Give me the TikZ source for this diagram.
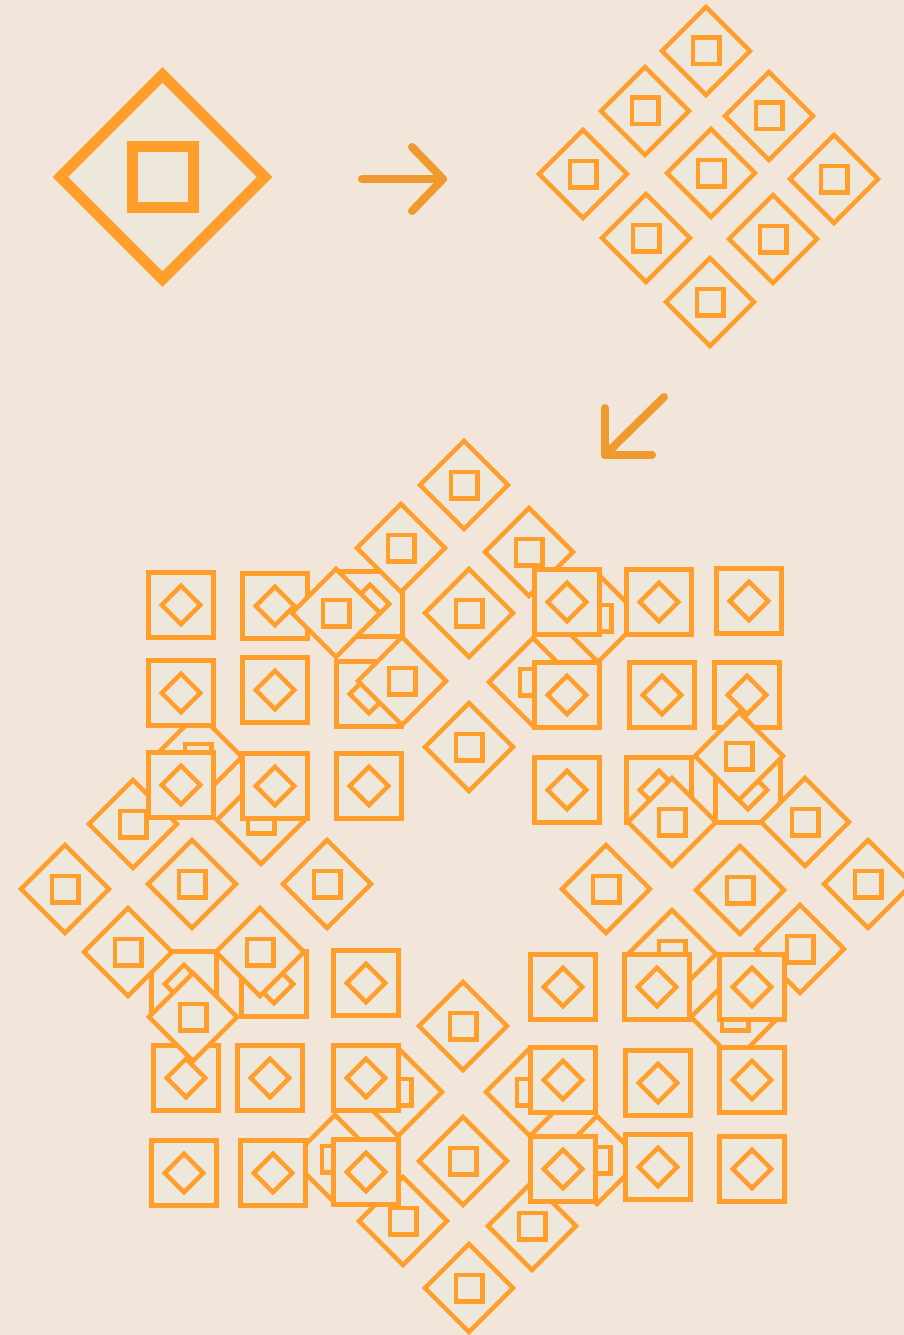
\documentclass[tikz,border=0pt]{standalone}
\definecolor{bgc}{RGB}{242,230,218}
\definecolor{tilefill}{RGB}{238,231,220}
\definecolor{strokec}{RGB}{255,158,42}
\definecolor{arrowc}{RGB}{239,154,47}
\begin{document}
\begin{tikzpicture}[x=1pt,y=-1pt,
  tile/.style={draw=strokec, fill=tilefill, line width=4.4pt},
  bigtile/.style={draw=strokec, fill=tilefill, line width=11pt},
  arr/.style={draw=arrowc, line width=8pt, line cap=round, line join=round},
  dtile/.pic={\path[tile] (0,-44) -- (44,0) -- (0,44) -- (-44,0) -- cycle;
              \path[tile] (-13.3,-13.3) rectangle (13.3,13.3);},
  stile/.pic={\path[tile] (-32.6,-32.6) rectangle (32.6,32.6);
              \path[tile] (0,-19.3) -- (19.3,0) -- (0,19.3) -- (-19.3,0) -- cycle;}
]
\fill[bgc] (0,0) rectangle (904,1335);
\useasboundingbox (0,0) rectangle (904,1335);
\clip (0,0) rectangle (904,1335);

% big tile
\path[bigtile] (162.5,74.8) -- (264.7,177) -- (162.5,279.2) -- (60.3,177) -- cycle;
\path[bigtile] (132,146.5) rectangle (193,207.5);

% arrows
\coordinate (a1s) at (362,179);
\coordinate (a1t) at (443,179);
\coordinate (a1u) at (412,147);
\coordinate (a1d) at (412,211);
\draw[arr] (a1s) -- (a1t);
\draw[arr] (a1u) -- (a1t) -- (a1d);
\coordinate (a2s) at (664,397);
\coordinate (a2t) at (605,455);
\coordinate (a2u) at (605,408);
\coordinate (a2r) at (652,455);
\draw[arr] (a2s) -- (a2t);
\draw[arr] (a2u) -- (a2t) -- (a2r);

% first step grid
\foreach \p in {(706,51),(645,111),(769,116),(583,174),(711,173),(834,179),(646,238),(773,239),(710,302)}
  \pic at \p {dtile};

% bottom pattern, drawing order matters
% bottom diamond group
\foreach \p in {(463,1026),(398,1092),(530,1092),(335,1159),(463,1161),(597,1160),(403,1221),(532,1226),(469,1288)}
  \pic at \p {dtile};
% lower-left square group
\foreach \p in {(184,984),(274,984),(366,983),(186,1078),(270,1078),(366,1078),(184,1173),(273,1173),(366,1172)}
  \pic at \p {stile};
% left diamond group
\foreach \p in {(198,757),(133,824),(261,820),(65,889),(192,884),(327,884),(128,952),(260,952),(193,1017)}
  \pic at \p {dtile};
% upper-left square group
\foreach \p in {(181,605),(275,606),(370,604),(181,693),(275,690),(369,694),(181,785),(275,786),(369,786)}
  \pic at \p {stile};
% top diamond group
\foreach \p in {(464,485),(401,548),(529,552),(336,613),(469,613),(598,618),(402,681),(533,682),(469,747)}
  \pic at \p {dtile};
% upper-right square group
\foreach \p in {(567,602),(659,602),(749,601),(567,695),(662,695),(747,695),(567,790),(659,790),(748,790)}
  \pic at \p {stile};
% right diamond group
\foreach \p in {(739,756),(672,822),(805,822),(606,889),(740,890),(868,884),(672,954),(800,949),(735,1017)}
  \pic at \p {dtile};
% lower-right square group
\foreach \p in {(563,987),(657,987),(752,987),(563,1080),(658,1083),(752,1080),(563,1169),(658,1167),(752,1169)}
  \pic at \p {stile};
\end{tikzpicture}
\end{document}
